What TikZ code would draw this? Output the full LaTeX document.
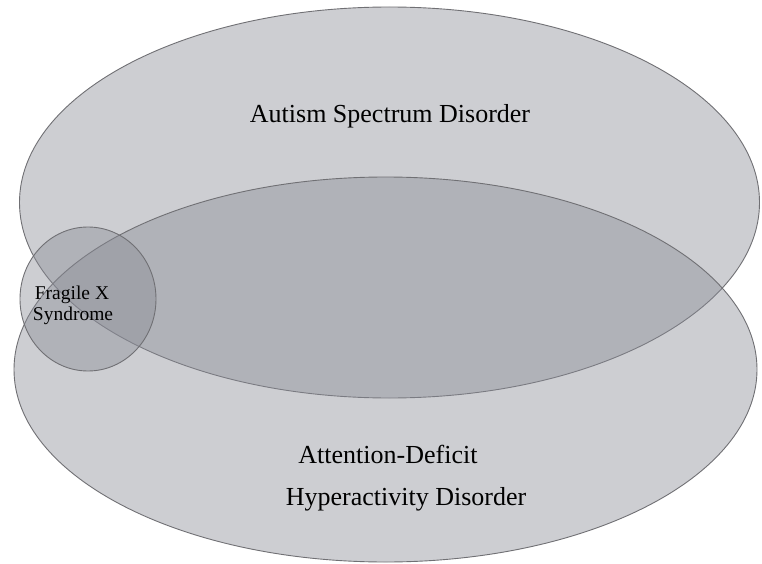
\documentclass[tikz,border=0pt]{standalone}
\usepackage{fontspec}
\setmainfont{Liberation Serif}
\definecolor{setfill}{RGB}{138,140,150}
\definecolor{setline}{RGB}{112,112,116}
\begin{document}
\begin{tikzpicture}[x=1pt,y=-1pt,
  setshape/.style={draw=setline, line width=0.9pt, fill=setfill, fill opacity=0.42, draw opacity=1},
  biglabel/.style={font=\fontsize{26}{30}\selectfont, anchor=base, inner sep=0pt, text=black},
  smalllabel/.style={font=\fontsize{19.5}{21}\selectfont, align=center, inner sep=0pt, text=black}]
\useasboundingbox (0,0) rectangle (762,564);
\fill[white] (0,0) rectangle (762,564);
\draw[setshape] (389.5,202.5) ellipse [x radius=370, y radius=195.5];
\draw[setshape] (385.5,369.5) ellipse [x radius=371.5, y radius=192.5];
\draw[setshape] (88,299) ellipse [x radius=68, y radius=72];
\node[biglabel] (asd) at (390,123) {Autism Spectrum Disorder};
\node[biglabel] (adhd1) at (388,463) {Attention-Deficit};
\node[biglabel] (adhd2) at (406,505) {Hyperactivity Disorder};
\node[smalllabel, anchor=base] (fx1) at (72,299) {Fragile X};
\node[smalllabel, anchor=base] (fx2) at (73,320) {Syndrome};
\end{tikzpicture}
\end{document}
